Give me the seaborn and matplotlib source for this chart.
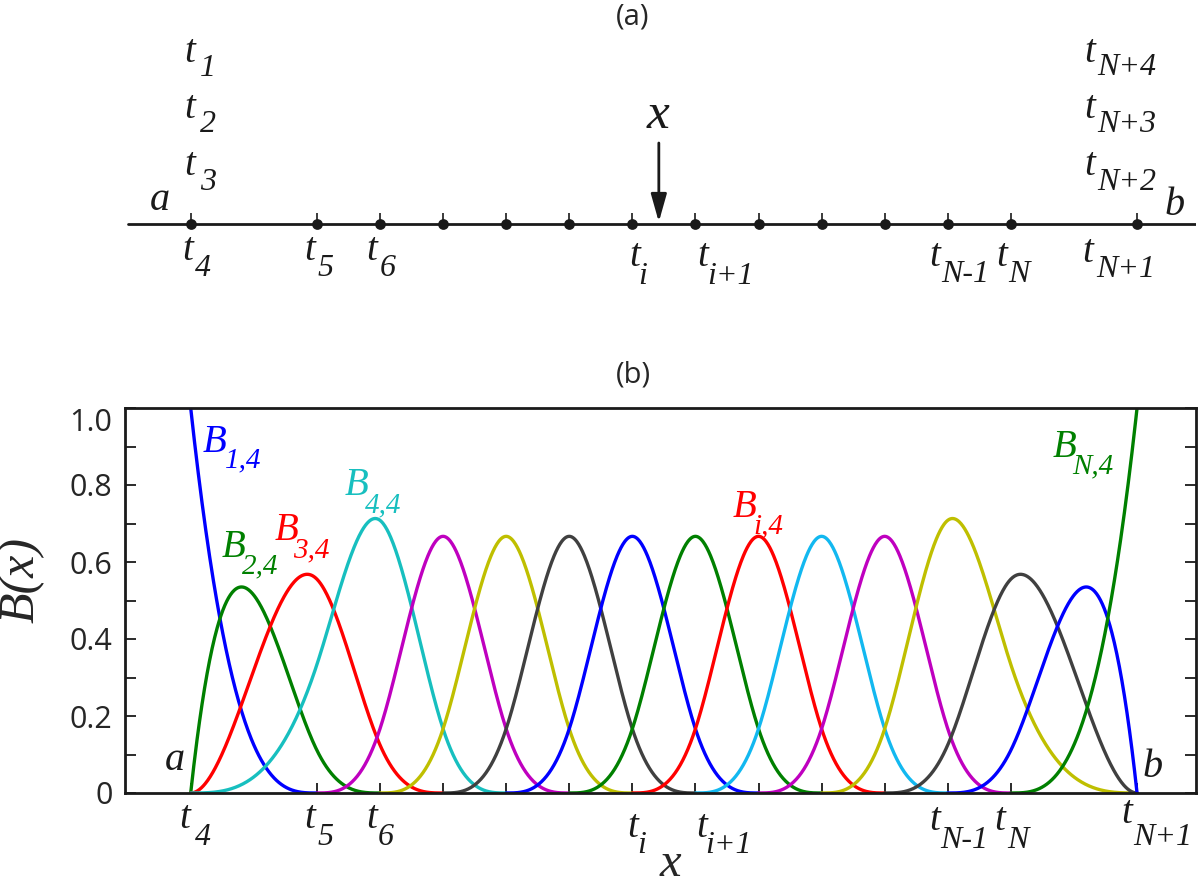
import numpy as np
import pandas as pd
import matplotlib
matplotlib.use("Agg")
import matplotlib.pyplot as plt
import seaborn as sns
from matplotlib.transforms import Affine2D

# ---------------- data ----------------
knots = [0, 2, 3, 4, 5, 6, 7, 8, 9, 10, 11, 12, 13, 15]   # t4 ... t(N+1), distinct knots
order = 4
basis_names = [f"B{j}" for j in range(1, 17)]
basis_colors = ["#0000FF", "#008000", "#FF0000", "#17BFBF", "#BF00BF", "#BFBF00", "#404040",
                "#0000FF", "#008000", "#FF0000", "#12B8F0", "#BF00BF", "#BFBF00", "#404040",
                "#0000FF", "#008000"]
x_eval = 7.42
yticks = [0, 0.2, 0.4, 0.6, 0.8, 1.0]
ytick_labels = ["0", "0.2", "0.4", "0.6", "0.8", "1.0"]
yminor = [0.1, 0.3, 0.5, 0.7, 0.9]

# full knot vector with repeated end knots
t = np.array([knots[0]] * (order - 1) + knots + [knots[-1]] * (order - 1), float)


def basis_all(t, order, x):
    n0 = len(t) - 1
    B = np.zeros((n0, x.size))
    for j in range(n0):
        if t[j] < t[j + 1]:
            B[j] = ((x >= t[j]) & (x < t[j + 1])).astype(float)
    last = max(j for j in range(n0) if t[j] < t[j + 1])
    B[last, x == t[-1]] = 1.0
    for p in range(2, order + 1):
        Bn = np.zeros((n0 - p + 1, x.size))
        for j in range(n0 - p + 1):
            d1 = t[j + p - 1] - t[j]
            d2 = t[j + p] - t[j + 1]
            term = np.zeros(x.size)
            if d1 > 0:
                term += (x - t[j]) / d1 * B[j]
            if d2 > 0:
                term += (t[j + p] - x) / d2 * B[j + 1]
            Bn[j] = term
        B = Bn
    return B


xs = np.linspace(t[0], t[-1], 1501)
Bv = basis_all(t, order, xs)
rows = []
for j, name in enumerate(basis_names):
    m = (xs >= t[j]) & (xs <= t[j + order])
    rows.append(pd.DataFrame({"x": xs[m], "B": Bv[j][m], "basis": name}))
df = pd.concat(rows, ignore_index=True)

# ---------------- style ----------------
sns.set_theme(style="white")
plt.rcParams["font.family"] = ["Open Sans", "DejaVu Sans"]
SERIF = "Liberation Serif"

W, H = 1200, 884
fig = plt.figure(figsize=(W / 100, H / 100), dpi=100)
PX = Affine2D().scale(1 / W, -1 / H).translate(0, 1) + fig.transFigure

px0, px_per_unit = 190.7, 63.09
xlim = ((125 - px0) / px_per_unit, (1196 - px0) / px_per_unit)

# ---------------- panel (a) ----------------
ax_a = fig.add_axes([125 / W, 1 - 300 / H, 1071 / W, 300 / H])
ax_a.set_xlim(*xlim)
ax_a.set_ylim(-76, 224)
ax_a.axis("off")
ax_a.axhline(0, xmin=3 / 1071, xmax=1, color="k", lw=2, zorder=1)
ax_a.vlines(knots, 0, 11, color="k", lw=1.2, zorder=2)
sns.scatterplot(x=knots, y=np.zeros(len(knots)), color="k", s=60, linewidth=0,
                ax=ax_a, zorder=3, legend=False)
ax_a.annotate("", xy=(x_eval, 2), xytext=(x_eval, 81),
              arrowprops=dict(arrowstyle="-|>,head_length=0.85,head_width=0.24",
                              mutation_scale=20, lw=2, color="k",
                              shrinkA=0, shrinkB=0))

# ---------------- panel (b) ----------------
ax_b = fig.add_axes([125 / W, 1 - 793 / H, 1071 / W, 385 / H])
sns.lineplot(data=df, x="x", y="B", hue="basis", hue_order=basis_names,
             palette=dict(zip(basis_names, basis_colors)), estimator=None,
             linewidth=2.4, legend=False, ax=ax_b)
ax_b.set_xlim(*xlim)
ax_b.set_ylim(0, 1.0)
ax_b.set_yticks(yticks, ytick_labels)
ax_b.set_yticks(yminor, minor=True)
ax_b.set_xticks(knots, [""] * len(knots))
for s in ax_b.spines.values():
    s.set_linewidth(2)
    s.set_color("k")
ax_b.tick_params(axis="y", which="both", direction="in", length=8, width=1.3,
                 left=True, right=True, labelsize=22, pad=9, color="k")
ax_b.tick_params(axis="x", which="both", direction="in", length=7, width=1.3,
                 bottom=True, top=False, color="k")
ax_b.get_yticklabels()[-1].set_va("top")

ax_b.set_xlabel("x", fontsize=35, family=SERIF, style="italic")
ax_b.xaxis.label.set_va("baseline")
ax_b.xaxis.set_label_coords(670, 876, transform=PX)
ax_b.set_ylabel("B(x)", fontsize=36, family=SERIF, style="italic")
ax_b.yaxis.label.set_va("center")
ax_b.yaxis.set_label_coords(21, 580, transform=PX)

# ---------------- text labels ----------------
def lab(main, sub, x, y, sx, sy, color="k", ms=28, ss=23):
    fig.text(x, y, main, transform=PX, fontsize=ms, family=SERIF, style="italic",
             color=color, ha="left", va="baseline")
    if sub:
        fig.text(sx, sy, sub, transform=PX, fontsize=ss, family=SERIF, style="italic",
                 color=color, ha="left", va="baseline")

# titles
fig.text(633, 17, "(a)", transform=PX, fontsize=21, ha="center", va="center")
fig.text(633, 375, "(b)", transform=PX, fontsize=21, ha="center", va="center")

# panel (a) knot labels
lab("t", "1", 184, 62, 200, 76)
lab("t", "2", 184, 118, 200, 132)
lab("t", "3", 184, 175, 200, 190)
lab("t", "4", 182, 260, 195, 276)
lab("t", "5", 304, 260, 318, 276)
lab("t", "6", 366, 260, 380, 276)
lab("t", "i", 629, 266, 638, 284)
lab("t", "i+1", 697, 266, 707, 284)
lab("t", "N-1", 929, 266, 941, 282)
lab("t", "N", 996, 266, 1008, 282)
lab("t", "N+1", 1082, 262, 1096, 277)
lab("t", "N+4", 1084, 62, 1097, 75)
lab("t", "N+3", 1084, 118, 1097, 132)
lab("t", "N+2", 1084, 175, 1097, 190)
lab("a", None, 150, 210, 0, 0, ms=29)
lab("b", None, 1165, 215, 0, 0, ms=29)
lab("x", None, 647, 128, 0, 0, ms=37)

# panel (b) knot labels
lab("t", "4", 179, 828, 195, 845)
lab("t", "5", 304, 828, 317, 845)
lab("t", "6", 366, 828, 378, 845)
lab("t", "i", 627, 837, 637, 853)
lab("t", "i+1", 696, 837, 705, 853)
lab("t", "N-1", 929, 830, 940, 848)
lab("t", "N", 994, 830, 1007, 848)
lab("t", "N+1", 1121, 823, 1133, 845)
lab("a", None, 165, 770, 0, 0, ms=29)
lab("b", None, 1142, 777, 0, 0, ms=29)

# curve labels
lab("B", "1,4", 203, 452, 225, 467, color=basis_colors[0], ms=28, ss=21)
lab("B", "2,4", 222, 557, 242, 573, color=basis_colors[1], ms=28, ss=21)
lab("B", "3,4", 275, 540, 293, 557, color=basis_colors[2], ms=28, ss=21)
lab("B", "4,4", 345, 495, 365, 512, color=basis_colors[3], ms=28, ss=21)
lab("B", "i,4", 733, 517, 753, 533, color=basis_colors[9], ms=28, ss=21)
lab("B", "N,4", 1053, 457, 1072, 473, color=basis_colors[15], ms=28, ss=21)

fig.savefig("out.png", dpi=100)
